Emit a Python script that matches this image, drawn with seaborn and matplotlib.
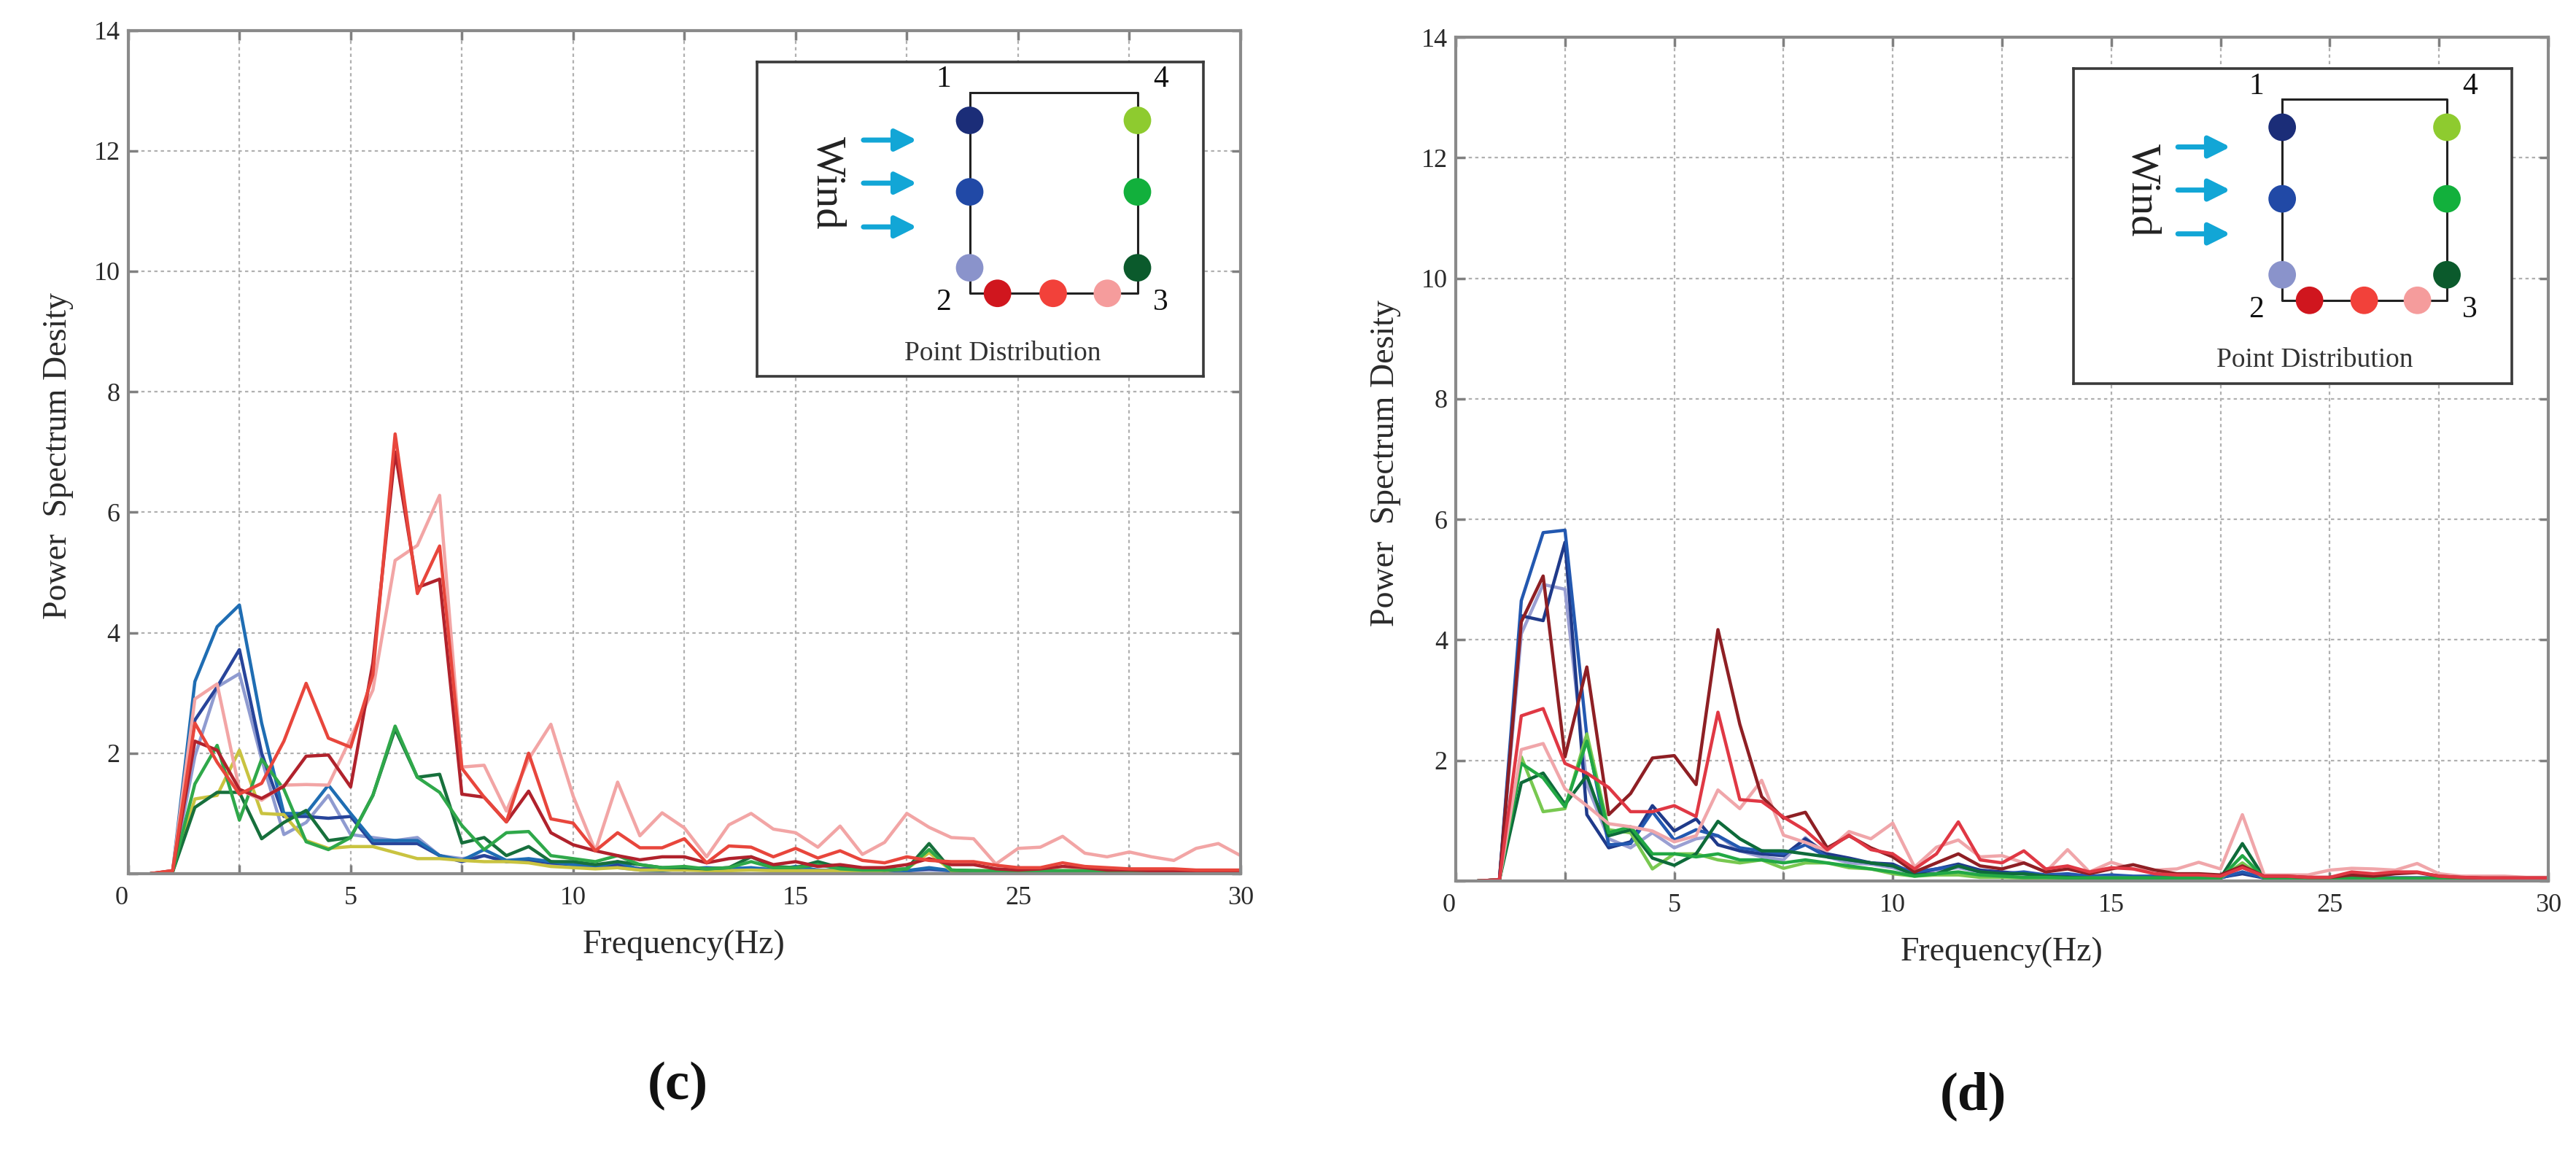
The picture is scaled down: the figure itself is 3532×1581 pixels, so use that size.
import numpy as np
import pandas as pd
import matplotlib
matplotlib.use("Agg")
import matplotlib.pyplot as plt
import seaborn as sns

# ---------------- data ----------------
freq = [0.5, 1.0, 1.5, 2.0, 2.5, 3.0, 3.5, 4.0, 4.5, 5.0,
        5.5, 6.0, 6.5, 7.0, 7.5, 8.0, 8.5, 9.0, 9.5, 10.0,
        10.5, 11.0, 11.5, 12.0, 12.5, 13.0, 13.5, 14.0, 14.5, 15.0,
        15.5, 16.0, 16.5, 17.0, 17.5, 18.0, 18.5, 19.0, 19.5, 20.0,
        20.5, 21.0, 21.5, 22.0, 22.5, 23.0, 23.5, 24.0, 24.5, 25.0]

x_ticks = [0, 2.5, 5, 7.5, 10, 12.5, 15, 17.5, 20, 22.5, 25]
x_tick_labels = ["0", "", "5", "", "10", "", "15", "", "25", "", "30"]
y_ticks = [0, 2, 4, 6, 8, 10, 12, 14]
y_tick_labels = ["", "2", "4", "6", "8", "10", "12", "14"]

point_names = ["P1 upper", "P1 middle", "P2 upper", "P2 right", "P2 middle", "P3 left",
               "P3 upper", "P4 middle", "P4 upper"]

# panel (c)
c_p1_navy = [0.00, 0.03, 2.55, 3.10, 3.72, 2.00, 0.95, 0.95, 0.92, 0.95,
             0.50, 0.50, 0.50, 0.30, 0.20, 0.30, 0.20, 0.22, 0.18, 0.15,
             0.12, 0.15, 0.08, 0.08, 0.08, 0.08, 0.06, 0.08, 0.06, 0.08,
             0.05, 0.05, 0.05, 0.05, 0.05, 0.08, 0.05, 0.04, 0.04, 0.04,
             0.04, 0.04, 0.04, 0.04, 0.04, 0.04, 0.04, 0.04, 0.04, 0.04]
c_p2_blue = [0.00, 0.03, 3.19, 4.10, 4.46, 2.50, 1.00, 1.00, 1.47, 1.00,
             0.55, 0.55, 0.55, 0.30, 0.22, 0.40, 0.22, 0.25, 0.20, 0.15,
             0.10, 0.20, 0.06, 0.05, 0.08, 0.10, 0.08, 0.10, 0.06, 0.12,
             0.06, 0.05, 0.05, 0.05, 0.05, 0.10, 0.05, 0.04, 0.04, 0.04,
             0.04, 0.04, 0.04, 0.04, 0.04, 0.04, 0.04, 0.04, 0.04, 0.04]
c_p3_lav = [0.00, 0.03, 1.95, 3.10, 3.32, 1.90, 0.65, 0.85, 1.30, 0.65,
            0.60, 0.55, 0.60, 0.30, 0.25, 0.30, 0.20, 0.20, 0.15, 0.12,
            0.10, 0.10, 0.06, 0.06, 0.06, 0.08, 0.10, 0.08, 0.10, 0.06,
            0.05, 0.05, 0.05, 0.05, 0.05, 0.06, 0.05, 0.04, 0.04, 0.04,
            0.04, 0.04, 0.04, 0.04, 0.04, 0.04, 0.04, 0.04, 0.04, 0.04]
c_p4_dred = [0.00, 0.05, 2.20, 2.05, 1.40, 1.25, 1.45, 1.95, 1.97, 1.44,
             3.50, 7.00, 4.75, 4.89, 1.32, 1.27, 0.86, 1.37, 0.68, 0.48,
             0.38, 0.30, 0.23, 0.28, 0.28, 0.18, 0.25, 0.28, 0.15, 0.20,
             0.12, 0.15, 0.10, 0.10, 0.15, 0.25, 0.15, 0.15, 0.08, 0.06,
             0.08, 0.12, 0.10, 0.06, 0.06, 0.05, 0.05, 0.05, 0.05, 0.05]
c_p5_red = [0.00, 0.05, 2.50, 1.85, 1.32, 1.50, 2.20, 3.16, 2.25, 2.10,
            3.30, 7.30, 4.65, 5.44, 1.75, 1.27, 0.86, 2.00, 0.91, 0.84,
            0.38, 0.68, 0.43, 0.43, 0.58, 0.18, 0.46, 0.44, 0.28, 0.42,
            0.26, 0.38, 0.22, 0.18, 0.28, 0.22, 0.20, 0.20, 0.14, 0.10,
            0.10, 0.18, 0.12, 0.10, 0.08, 0.08, 0.08, 0.06, 0.06, 0.06]
c_p6_pink = [0.00, 0.05, 2.90, 3.15, 1.40, 1.22, 1.47, 1.48, 1.47, 2.25,
             3.05, 5.20, 5.45, 6.28, 1.77, 1.80, 1.04, 1.90, 2.48, 1.29,
             0.38, 1.52, 0.63, 1.01, 0.76, 0.28, 0.81, 1.00, 0.74, 0.68,
             0.44, 0.79, 0.32, 0.52, 1.00, 0.77, 0.60, 0.58, 0.16, 0.42,
             0.44, 0.62, 0.34, 0.28, 0.36, 0.28, 0.22, 0.42, 0.50, 0.30]
c_p7_dgreen = [0.00, 0.03, 1.10, 1.35, 1.35, 0.58, 0.85, 1.05, 0.55, 0.60,
               1.30, 2.40, 1.60, 1.65, 0.51, 0.60, 0.30, 0.45, 0.20, 0.20,
               0.15, 0.20, 0.15, 0.10, 0.10, 0.08, 0.10, 0.28, 0.12, 0.10,
               0.20, 0.10, 0.08, 0.06, 0.08, 0.50, 0.06, 0.05, 0.04, 0.04,
               0.04, 0.04, 0.04, 0.04, 0.04, 0.04, 0.04, 0.04, 0.04, 0.04]
c_p8_green = [0.00, 0.03, 1.49, 2.13, 0.89, 1.90, 1.40, 0.53, 0.40, 0.60,
              1.30, 2.45, 1.60, 1.35, 0.80, 0.40, 0.68, 0.70, 0.30, 0.25,
              0.20, 0.30, 0.15, 0.10, 0.12, 0.08, 0.10, 0.20, 0.10, 0.10,
              0.15, 0.08, 0.06, 0.06, 0.08, 0.40, 0.06, 0.05, 0.05, 0.05,
              0.05, 0.05, 0.05, 0.05, 0.05, 0.05, 0.05, 0.05, 0.05, 0.05]
c_p9_lgreen = [0.00, 0.03, 1.24, 1.30, 2.05, 1.00, 0.98, 0.55, 0.42, 0.45,
               0.45, 0.35, 0.25, 0.25, 0.22, 0.20, 0.20, 0.18, 0.12, 0.10,
               0.08, 0.10, 0.06, 0.06, 0.06, 0.05, 0.05, 0.06, 0.05, 0.05,
               0.05, 0.05, 0.05, 0.05, 0.08, 0.35, 0.05, 0.05, 0.05, 0.05,
               0.05, 0.05, 0.05, 0.05, 0.05, 0.05, 0.05, 0.05, 0.05, 0.05]

# panel (d)
d_p1_navy = [0.00, 0.02, 4.40, 4.32, 5.62, 1.10, 0.55, 0.65, 1.25, 0.83,
             1.03, 0.60, 0.50, 0.45, 0.42, 0.70, 0.45, 0.38, 0.30, 0.28,
             0.12, 0.20, 0.28, 0.18, 0.15, 0.12, 0.10, 0.10, 0.08, 0.08,
             0.06, 0.06, 0.06, 0.06, 0.06, 0.12, 0.05, 0.05, 0.05, 0.05,
             0.05, 0.05, 0.05, 0.05, 0.05, 0.04, 0.04, 0.04, 0.04, 0.04]
d_p2_blue = [0.00, 0.02, 4.65, 5.78, 5.82, 2.40, 0.60, 0.62, 1.15, 0.68,
             0.85, 0.75, 0.55, 0.50, 0.45, 0.60, 0.40, 0.35, 0.30, 0.25,
             0.15, 0.20, 0.25, 0.15, 0.12, 0.15, 0.10, 0.12, 0.08, 0.10,
             0.08, 0.08, 0.06, 0.06, 0.05, 0.15, 0.05, 0.05, 0.05, 0.05,
             0.05, 0.05, 0.05, 0.05, 0.05, 0.04, 0.04, 0.04, 0.04, 0.04]
d_p3_lav = [0.00, 0.02, 4.10, 4.92, 4.84, 1.60, 0.70, 0.55, 0.80, 0.55,
            0.70, 0.75, 0.50, 0.40, 0.35, 0.72, 0.40, 0.30, 0.28, 0.22,
            0.12, 0.18, 0.22, 0.15, 0.12, 0.12, 0.08, 0.10, 0.08, 0.08,
            0.06, 0.06, 0.06, 0.06, 0.05, 0.15, 0.05, 0.05, 0.05, 0.05,
            0.05, 0.05, 0.05, 0.05, 0.05, 0.04, 0.04, 0.04, 0.04, 0.04]
d_p4_dred = [0.00, 0.02, 4.30, 5.06, 2.06, 3.55, 1.10, 1.45, 2.04, 2.08,
             1.60, 4.17, 2.60, 1.40, 1.04, 1.14, 0.55, 0.75, 0.55, 0.40,
             0.15, 0.30, 0.45, 0.25, 0.20, 0.30, 0.15, 0.20, 0.12, 0.20,
             0.27, 0.18, 0.12, 0.12, 0.10, 0.25, 0.08, 0.08, 0.06, 0.06,
             0.10, 0.08, 0.12, 0.14, 0.08, 0.06, 0.05, 0.05, 0.05, 0.05]
d_p5_red = [0.00, 0.02, 2.74, 2.86, 1.95, 1.79, 1.55, 1.15, 1.15, 1.25,
            1.07, 2.80, 1.35, 1.32, 1.06, 0.84, 0.52, 0.76, 0.52, 0.45,
            0.20, 0.45, 0.98, 0.35, 0.30, 0.50, 0.20, 0.25, 0.15, 0.22,
            0.20, 0.12, 0.10, 0.10, 0.08, 0.22, 0.08, 0.08, 0.06, 0.06,
            0.15, 0.12, 0.15, 0.15, 0.08, 0.06, 0.05, 0.05, 0.05, 0.05]
d_p6_pink = [0.00, 0.02, 2.18, 2.28, 1.53, 1.25, 0.95, 0.90, 0.83, 0.65,
             0.75, 1.51, 1.20, 1.67, 0.76, 0.64, 0.50, 0.82, 0.70, 0.96,
             0.23, 0.56, 0.68, 0.40, 0.42, 0.30, 0.15, 0.52, 0.15, 0.31,
             0.20, 0.18, 0.20, 0.31, 0.20, 1.10, 0.10, 0.10, 0.10, 0.18,
             0.21, 0.20, 0.18, 0.29, 0.12, 0.08, 0.08, 0.08, 0.06, 0.06]
d_p7_dgreen = [0.00, 0.02, 1.63, 1.79, 1.27, 1.75, 0.75, 0.85, 0.38, 0.26,
               0.45, 0.99, 0.70, 0.50, 0.50, 0.45, 0.40, 0.35, 0.30, 0.25,
               0.10, 0.12, 0.25, 0.15, 0.12, 0.12, 0.08, 0.06, 0.05, 0.04,
               0.05, 0.05, 0.05, 0.05, 0.05, 0.62, 0.05, 0.04, 0.04, 0.04,
               0.04, 0.04, 0.04, 0.04, 0.04, 0.04, 0.04, 0.04, 0.04, 0.04]
d_p8_green = [0.00, 0.02, 1.95, 1.71, 1.23, 2.32, 0.80, 0.90, 0.45, 0.45,
              0.40, 0.45, 0.35, 0.35, 0.30, 0.35, 0.30, 0.25, 0.20, 0.15,
              0.08, 0.12, 0.15, 0.10, 0.08, 0.06, 0.06, 0.05, 0.05, 0.05,
              0.05, 0.05, 0.05, 0.05, 0.05, 0.42, 0.05, 0.04, 0.04, 0.04,
              0.04, 0.04, 0.04, 0.04, 0.04, 0.04, 0.04, 0.04, 0.04, 0.04]
d_p9_lgreen = [0.00, 0.02, 2.06, 1.15, 1.20, 2.44, 0.85, 0.80, 0.20, 0.45,
               0.45, 0.35, 0.30, 0.35, 0.21, 0.30, 0.30, 0.22, 0.20, 0.12,
               0.08, 0.10, 0.10, 0.06, 0.06, 0.05, 0.05, 0.05, 0.05, 0.05,
               0.05, 0.05, 0.05, 0.05, 0.05, 0.30, 0.05, 0.04, 0.04, 0.04,
               0.04, 0.04, 0.04, 0.04, 0.04, 0.04, 0.04, 0.04, 0.04, 0.04]

c_series = [c_p1_navy, c_p2_blue, c_p3_lav, c_p4_dred, c_p5_red, c_p6_pink,
            c_p7_dgreen, c_p8_green, c_p9_lgreen]
d_series = [d_p1_navy, d_p2_blue, d_p3_lav, d_p4_dred, d_p5_red, d_p6_pink,
            d_p7_dgreen, d_p8_green, d_p9_lgreen]

c_colors = ["#27449a", "#1f6db3", "#8f9bd0", "#b0222c", "#e8463c", "#f2a5a5",
            "#17703c", "#2fa84a", "#c9c340"]
d_colors = ["#1f3a8a", "#2358b0", "#9a9fd2", "#8e1f24", "#e03844", "#f0a6aa",
            "#0e6b3a", "#22a844", "#78c850"]

# draw order (back to front)
draw_order = [2, 0, 1, 8, 6, 7, 5, 3, 4]

# inset diagram colours: left side, right side, bottom side
dot_colors_left = ["#1b2d78", "#2149a6", "#8a93cb"]
dot_colors_right = ["#8ecb2f", "#12b03c", "#0b5a2c"]
dot_colors_bottom = ["#d0161e", "#f2413a", "#f59c9c"]

# ---------------- style ----------------
sns.set_theme(style="white")
plt.rcParams["font.family"] = ["Liberation Serif", "DejaVu Serif"]

W, H = 3532, 1581
fig = plt.figure(figsize=(W / 100, H / 100), dpi=100)
fig.patch.set_facecolor("white")


def px_rect(l, t, r, b):
    return [l / W, 1 - b / H, (r - l) / W, (b - t) / H]


def draw_inset(ax):
    ai = ax.inset_axes([0.5655, 0.5895, 0.401, 0.373])
    ai.set_zorder(10)
    ai.set_facecolor("white")
    ai.set_xlim(0, 609)
    ai.set_ylim(431, 0)
    ai.set_xticks([])
    ai.set_yticks([])
    for s in ai.spines.values():
        s.set_color("#3a3a3a")
        s.set_linewidth(2.6)
        s.set_visible(True)
    # outline
    ai.plot([290, 290, 519, 519, 290], [42, 317, 317, 42, 42], color="#222222", lw=2.2, zorder=1)
    ys = [80, 178, 282]
    ai.scatter([290] * 3, ys, s=740, c=dot_colors_left, zorder=3, linewidths=0)
    ai.scatter([519] * 3, ys, s=740, c=dot_colors_right, zorder=3, linewidths=0)
    ai.scatter([328, 404, 478], [317] * 3, s=740, c=dot_colors_bottom, zorder=3, linewidths=0)
    for t, (x, y) in zip(["1", "4", "2", "3"], [(254, 24), (551, 24), (254, 330), (551, 330)]):
        ai.text(x, y, t, ha="center", va="center", fontsize=30, color="#111111")
    ai.text(96, 166, "Wind", rotation=-90, ha="center", va="center", fontsize=42, color="#222222")
    for y in [107, 166, 226]:
        ai.annotate("", xy=(218, y), xytext=(145, y),
                    arrowprops=dict(arrowstyle="-|>,head_length=0.6,head_width=0.3",
                                    color="#12a6d6", lw=5, mutation_scale=30,
                                    shrinkA=0, shrinkB=0))
    ai.text(335, 399, "Point Distribution", ha="center", va="center", fontsize=27, color="#333333")


panels = [
    dict(rect=px_rect(175.7, 41.6, 1701, 1198), series=c_series, colors=c_colors,
         label="(c)", label_xy=(929, 1489), xlab_xy=(938, 1296), ylab_xy=(80, 625)),
    dict(rect=px_rect(1996, 51, 3494, 1208), series=d_series, colors=d_colors,
         label="(d)", label_xy=(2705, 1503), xlab_xy=(2745, 1306), ylab_xy=(1900, 635)),
]

for p in panels:
    ax = fig.add_axes(p["rect"])
    names = [point_names[i] for i in range(9)]
    df = pd.DataFrame({
        "Frequency": np.tile(freq, len(names)),
        "PSD": np.concatenate([np.asarray(s, dtype=float) for s in p["series"]]),
        "Point": np.repeat(names, len(freq)),
    })
    palette = {names[i]: p["colors"][i] for i in range(9)}
    sns.lineplot(data=df, x="Frequency", y="PSD", hue="Point",
                 hue_order=[names[i] for i in draw_order], palette=palette,
                 linewidth=3.2, legend=False, errorbar=None, estimator=None,
                 sort=False, ax=ax)
    ax.set_xlim(0, 25)
    ax.set_ylim(0, 14)
    ax.set_xticks(x_ticks)
    ax.set_xticklabels(x_tick_labels)
    ax.set_yticks(y_ticks)
    ax.set_yticklabels(y_tick_labels)
    ax.xaxis.get_major_ticks()[0].label1.set_horizontalalignment("right")
    ax.set_xlabel("")
    ax.set_ylabel("")
    ax.set_axisbelow(True)
    ax.grid(True, color="#b0b0b0", linestyle=(0, (2, 2)), linewidth=1.6)
    ax.tick_params(direction="in", length=9, width=2.5, color="#808080",
                   labelsize=26, labelcolor="#2a2a2a", top=True, right=True,
                   bottom=True, left=True)
    ax.tick_params(axis="x", pad=12)
    ax.tick_params(axis="y", pad=8)
    for s in ax.spines.values():
        s.set_visible(True)
        s.set_color("#8a8a8a")
        s.set_linewidth(3)
    draw_inset(ax)

    fx, fy = p["xlab_xy"]
    fig.text(fx / W, 1 - fy / H, "Frequency(Hz)", ha="center", va="center",
             fontsize=33, color="#2a2a2a")
    lx, ly = p["ylab_xy"]
    fig.text(lx / W, 1 - ly / H, "Power  Spectrum Desity", ha="center", va="center",
             rotation=90, fontsize=33, color="#2a2a2a")
    tx, ty = p["label_xy"]
    fig.text(tx / W, 1 - ty / H, p["label"], ha="center", va="center",
             fontsize=54, fontweight="bold", color="#111111")

fig.savefig("out.png", dpi=100, facecolor="white")
